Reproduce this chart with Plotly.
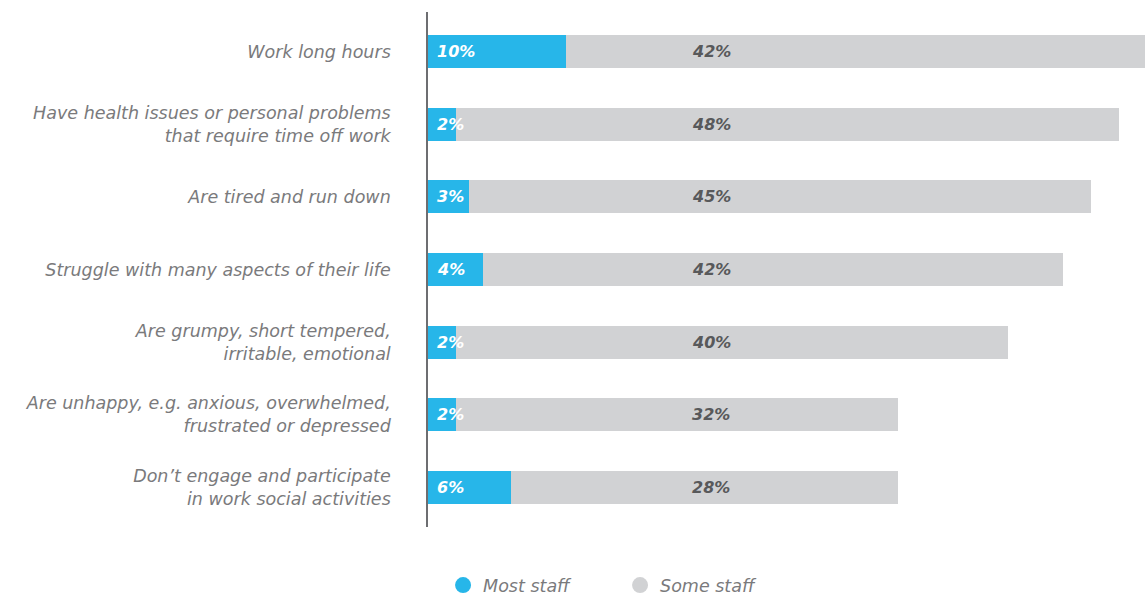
import plotly.graph_objects as go

categories = [
    "Work long hours",
    "Have health issues or personal problems<br>that require time off work",
    "Are tired and run down",
    "Struggle with many aspects of their life",
    "Are grumpy, short tempered,<br>irritable, emotional",
    "Are unhappy, e.g. anxious, overwhelmed,<br>frustrated or depressed",
    "Don\u2019t engage and participate<br>in work social activities",
]
most_staff = [10, 2, 3, 4, 2, 2, 6]
some_staff = [42, 48, 45, 42, 40, 32, 28]

BLUE = "#27B6E9"
GREY = "#D1D2D4"
LABEL_FONT = "DejaVu Sans"
PCT_FONT = "DejaVu Sans"

fig = go.Figure()

fig.add_trace(go.Bar(
    y=categories, x=most_staff, orientation="h",
    marker=dict(color=BLUE, line=dict(width=0)),
    width=0.455, showlegend=False, hoverinfo="skip",
))
fig.add_trace(go.Bar(
    y=categories, x=some_staff, orientation="h",
    marker=dict(color=GREY, line=dict(width=0)),
    width=0.455, showlegend=False, hoverinfo="skip",
))

# legend entries drawn as circle markers
for name, col in [("<i>Most staff</i>", BLUE), ("<i>Some staff</i>", GREY)]:
    fig.add_trace(go.Scatter(
        x=[None], y=[None], mode="markers", name=name,
        marker=dict(symbol="circle", size=17, color=col),
    ))

# value labels
for cat, m, s in zip(categories, most_staff, some_staff):
    fig.add_annotation(
        x=0, y=cat, xref="x", yref="y", text=f"<b><i>{m}%</i></b>",
        showarrow=False, xanchor="left", xshift=7,
        font=dict(family=PCT_FONT, size=16, color="white"),
    )
    fig.add_annotation(
        x=20.5, y=cat, xref="x", yref="y", text=f"<b><i>{s}%</i></b>",
        showarrow=False, xanchor="center",
        font=dict(family=PCT_FONT, size=16, color="#58595B"),
    )

fig.update_layout(
    barmode="stack",
    width=1145, height=599,
    margin=dict(l=428, r=0, t=12, b=72, autoexpand=False),
    paper_bgcolor="white", plot_bgcolor="white",
    xaxis=dict(range=[0, 51.9], visible=False, fixedrange=True),
    yaxis=dict(
        autorange=False, range=[6.55, -0.55],
        categoryorder="array", categoryarray=categories,
        tickvals=categories,
        ticktext=[f"<i>{c}</i>" for c in categories],
        showline=True, linecolor="#6D6E71", linewidth=1.5,
        showgrid=False, zeroline=False, ticks="",
        ticklabelstandoff=32,
        tickfont=dict(family=LABEL_FONT, size=17.5, color="#7A7A7C"),
    ),
    legend=dict(
        orientation="h", traceorder="normal",
        x=0.021, xanchor="left", y=-0.113, yanchor="middle",
        font=dict(family=LABEL_FONT, size=17.5, color="#7A7A7C"),
        entrywidth=132, entrywidthmode="pixels",
        itemsizing="trace",
    ),
    font=dict(family=LABEL_FONT),
)

fig.write_html("out.html")
